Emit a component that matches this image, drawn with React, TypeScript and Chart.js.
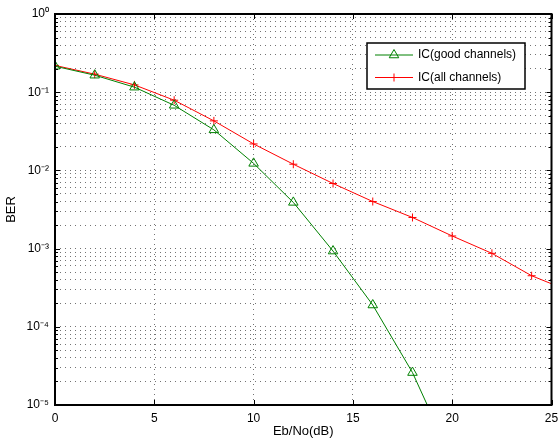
import React, { useEffect, useRef } from "react";
import { Chart, registerables } from "chart.js";

Chart.register(...registerables);

const snrDb = [0, 2, 4, 6, 8, 10, 12, 14, 16, 18, 20, 22, 24, 26];
const berGood = [0.215, 0.165, 0.116, 0.068, 0.033, 0.0123, 0.0039, 0.00093, 0.00019, 2.6e-5, 2e-6];
const berAll = [0.22, 0.17, 0.124, 0.079, 0.043, 0.0218, 0.012, 0.0068, 0.004, 0.0025, 0.00145, 0.00087, 0.00045, 0.00028];
const xTicks = [0, 5, 10, 15, 20, 25];
const yExponents = [-5, -4, -3, -2, -1, 0];
const labelGood = "IC(good channels)";
const labelAll = "IC(all channels)";

const GREEN = "#008000";
const RED = "#ff0000";
const FONT = "'Liberation Sans', Arial, Helvetica, sans-serif";
const GRID = "rgba(0,0,0,0.55)";

const SUP: Record<string, string> = {
  "0": "\u2070", "1": "\u00b9", "2": "\u00b2", "3": "\u00b3", "4": "\u2074",
  "5": "\u2075", "6": "\u2076", "7": "\u2077", "8": "\u2078", "9": "\u2079", "-": "\u207b",
};
const sup = (n: number) => String(n).split("").map((c) => SUP[c] || c).join("");

const yTickValues: number[] = [];
for (let i = 0; i < yExponents.length; i++) {
  const e = yExponents[i];
  if (i === yExponents.length - 1) {
    yTickValues.push(Math.pow(10, e));
  } else {
    for (let s = 1; s <= 9; s++) yTickValues.push(s * Math.pow(10, e));
  }
}
const isPow10 = (v: number) => Math.abs(Math.log10(v) - Math.round(Math.log10(v))) < 1e-9;

const framePlugin = {
  id: "frame",
  afterDraw(chart: any) {
    const { ctx, chartArea } = chart;
    const { left, right, top, bottom } = chartArea;
    const ys = chart.scales.y;
    const xs = chart.scales.x;
    ctx.save();
    ctx.strokeStyle = "#000";
    ctx.lineWidth = 1;
    ctx.beginPath();
    yTickValues.forEach((v) => {
      const py = Math.round(ys.getPixelForValue(v)) + 0.5;
      const len = isPow10(v) ? 5 : 3;
      ctx.moveTo(left, py);
      ctx.lineTo(left + len, py);
      ctx.moveTo(right, py);
      ctx.lineTo(right - len, py);
    });
    xTicks.forEach((v) => {
      const px = Math.round(xs.getPixelForValue(v)) + 0.5;
      ctx.moveTo(px, bottom);
      ctx.lineTo(px, bottom - 5);
      ctx.moveTo(px, top);
      ctx.lineTo(px, top + 5);
    });
    ctx.stroke();
    ctx.lineWidth = 2;
    ctx.strokeRect(left, top, right - left, bottom - top);

    // legend
    const bx = 367, by = 43, bw = 158, bh = 46;
    ctx.fillStyle = "#fff";
    ctx.fillRect(bx, by, bw, bh);
    ctx.lineWidth = 1.5;
    ctx.strokeStyle = "#000";
    ctx.strokeRect(bx, by, bw, bh);
    const entries = [
      { label: chart.data.datasets[0].label, color: GREEN, style: "triangle", y: by + 12 },
      { label: chart.data.datasets[1].label, color: RED, style: "cross", y: by + 34.5 },
    ];
    entries.forEach((en) => {
      ctx.strokeStyle = en.color;
      ctx.lineWidth = 1;
      ctx.beginPath();
      ctx.moveTo(bx + 8, en.y);
      ctx.lineTo(bx + 46, en.y);
      ctx.stroke();
      const cx = bx + 27;
      ctx.beginPath();
      if (en.style === "triangle") {
        const r = 5.5;
        ctx.moveTo(cx, en.y - r);
        ctx.lineTo(cx + r * 0.866, en.y + r * 0.5);
        ctx.lineTo(cx - r * 0.866, en.y + r * 0.5);
        ctx.closePath();
      } else {
        ctx.moveTo(cx - 4, en.y);
        ctx.lineTo(cx + 4, en.y);
        ctx.moveTo(cx, en.y - 4);
        ctx.lineTo(cx, en.y + 4);
      }
      ctx.stroke();
      ctx.fillStyle = "#000";
      ctx.font = `12px ${FONT}`;
      ctx.textBaseline = "middle";
      ctx.textAlign = "left";
      ctx.fillText(en.label, bx + 51, en.y);
    });
    ctx.restore();
  },
};

export default function App() {
  const ref = useRef<HTMLCanvasElement | null>(null);
  useEffect(() => {
    if (!ref.current) return;
    const chart = new Chart(ref.current, {
      type: "line",
      data: {
        datasets: [
          {
            label: labelGood,
            data: berGood.map((v, i) => ({ x: snrDb[i], y: v })),
            borderColor: GREEN,
            borderWidth: 1,
            pointStyle: "triangle",
            pointRadius: 5.5,
            pointBorderColor: GREEN,
            pointBackgroundColor: "rgba(0,0,0,0)",
            pointBorderWidth: 1,
            fill: false,
            tension: 0,
          },
          {
            label: labelAll,
            data: berAll.map((v, i) => ({ x: snrDb[i], y: v })),
            borderColor: RED,
            borderWidth: 1,
            pointStyle: "cross",
            pointRadius: 4,
            pointBorderColor: RED,
            pointBorderWidth: 1,
            fill: false,
            tension: 0,
          },
        ],
      },
      options: {
        responsive: false,
        animation: false,
        events: [],
        layout: { padding: { left: 0, right: 5, top: 14, bottom: 0 } },
        plugins: { legend: { display: false }, tooltip: { enabled: false }, title: { display: false } },
        scales: {
          x: {
            type: "linear",
            min: 0,
            max: 25,
            afterBuildTicks: (scale: any) => {
              scale.ticks = xTicks.map((v) => ({ value: v }));
            },
            afterFit: (scale: any) => {
              scale.height = 37;
              scale.paddingLeft = 0;
              scale.paddingRight = 0;
            },
            ticks: {
              color: "#000",
              font: { family: FONT, size: 12 },
              padding: 6,
              maxRotation: 0,
              autoSkip: false,
            },
            grid: { color: GRID, lineWidth: 1, drawTicks: false },
            border: { display: false, dash: [1, 4] },
            title: { display: true, text: "Eb/No(dB)", color: "#000", font: { family: FONT, size: 13 }, padding: 3 },
          },
          y: {
            type: "logarithmic",
            min: 1e-5,
            max: 1,
            afterBuildTicks: (scale: any) => {
              scale.ticks = yTickValues.map((v) => ({ value: v, major: isPow10(v) }));
            },
            afterFit: (scale: any) => {
              scale.width = 55;
              scale.paddingTop = 0;
              scale.paddingBottom = 0;
            },
            ticks: {
              color: "#000",
              font: { family: FONT, size: 12 },
              padding: 6,
              autoSkip: false,
              callback: (v: any) => {
                const n = Number(v);
                if (!isPow10(n)) return "";
                return "10" + sup(Math.round(Math.log10(n)));
              },
            },
            grid: { color: GRID, lineWidth: 1, drawTicks: false },
            border: { display: false, dash: [1, 4] },
            title: { display: true, text: "BER", color: "#000", font: { family: FONT, size: 13 }, padding: 4 },
          },
        },
      },
      plugins: [framePlugin],
    } as any);
    return () => chart.destroy();
  }, []);
  return (
    <div style={{ position: "absolute", left: 0, top: 0, width: 558, height: 442, background: "#fff" }}>
      <canvas ref={ref} width={558} height={442} style={{ display: "block" }} />
    </div>
  );
}
